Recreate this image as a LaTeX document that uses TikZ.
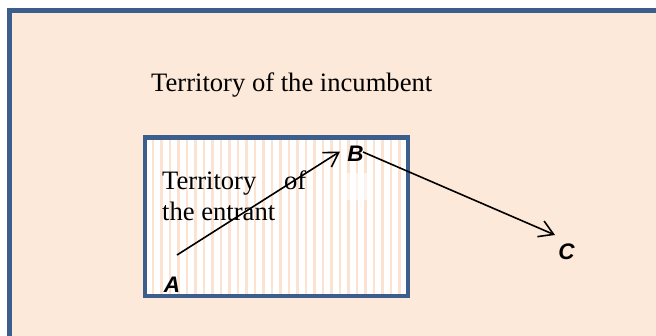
\documentclass[tikz,border=0pt]{standalone}
\usepackage{fontspec}
\setmainfont{Liberation Serif}
\newfontfamily\labelfont{Liberation Sans}
\usetikzlibrary{arrows.meta}
\definecolor{peach}{HTML}{FDE9D9}
\definecolor{stripecol}{HTML}{FCE2D0}
\definecolor{framecol}{HTML}{3B5E8C}
\begin{document}
\begin{tikzpicture}[x=1pt,y=-1pt,
  outerframe/.style={draw=framecol,line width=5pt,fill=peach},
  innerframe/.style={draw=framecol,line width=4.5pt},
  stripeline/.style={draw=stripecol,line width=2.5pt},
  territory/.style={font=\fontsize{26.6}{30.7}\selectfont,inner sep=0pt,anchor=base west},
  pointlabel/.style={font=\labelfont\bfseries\itshape\fontsize{22.5}{26}\selectfont,inner sep=0pt},
  move/.style={line width=1.6pt,-{Straight Barb[length=14pt,width=17pt,line width=1.6pt]}}
]
\useasboundingbox (0,0) rectangle (656,335);
\fill[white] (0,0) rectangle (656,335);
\begin{scope}
  \clip (0,0) rectangle (656,335);
  \draw[outerframe] (9.5,10) rectangle (680,360);
\end{scope}
% inner territory
\fill[white] (145,137.5) rectangle (408,296);
\foreach \x in {153,161.5,...,402}
  \draw[stripeline] (\x,140) -- (\x,294);
\fill[white,fill opacity=0.6] (343,173) rectangle (370,200);
\draw[innerframe] (145,137.5) rectangle (408,296);
% texts
\node[territory] (inc) at (151,91.7) {Territory of the incumbent};
\node[territory] (ent1) at (162,189.3) {\makebox[144pt][s]{Territory of}};
\node[territory] (ent2) at (162,220) {the entrant};
% points
\node[pointlabel] (A) at (172,285) {A};
\node[pointlabel] (B) at (355.5,153.5) {B};
\node[pointlabel] (C) at (566.5,252) {C};
\coordinate (a0) at (177,255);
\coordinate (b1) at (340,151.5);
\coordinate (b0) at (363,152);
\coordinate (c1) at (555,235);
\draw[move] (a0) -- (b1);
\draw[move] (b0) -- (c1);
\end{tikzpicture}
\end{document}
